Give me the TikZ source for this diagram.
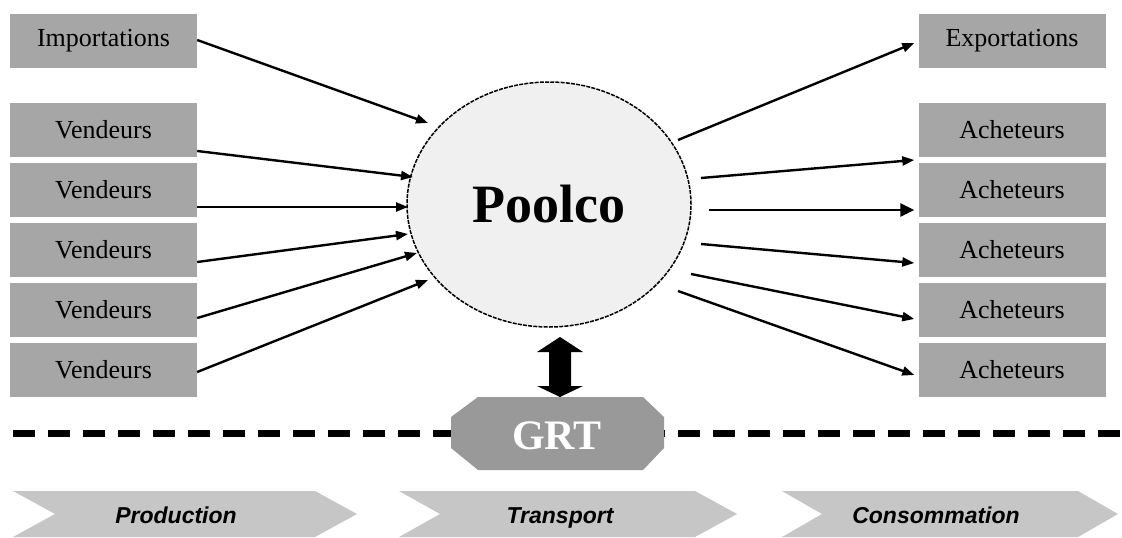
\documentclass[tikz,border=0pt]{standalone}
\usepackage{fontspec}
\setmainfont{Liberation Serif}
\newfontfamily\arialf{Liberation Sans}
\usetikzlibrary{arrows.meta,shapes.geometric}
\definecolor{boxgray}{HTML}{A6A6A6}
\definecolor{poolfill}{HTML}{F0F0F0}
\definecolor{grtgray}{HTML}{999999}
\definecolor{chevgray}{HTML}{C6C6C6}
\tikzset{
  marketbox/.style={fill=boxgray, minimum width=187pt, minimum height=54pt, inner sep=0pt,
    font=\fontsize{26}{30}\selectfont},
  flow/.style={line width=2.4pt, -{Triangle[length=12pt,width=9pt]}},
  bigflow/.style={line width=2.4pt, -{Triangle[length=14pt,width=13pt]}},
  chev/.style={fill=chevgray},
  phase/.style={font=\arialf\bfseries\itshape\fontsize{23}{27}\selectfont, inner sep=0pt, anchor=base}
}
\begin{document}
\begin{tikzpicture}[x=1pt,y=-1pt]
\useasboundingbox[fill=white] (0,0) rectangle (1122,538);

% boxes left
\node[marketbox] (imp) at (103.5,41) {Importations};
\node[marketbox] (v1) at (103.5,130) {Vendeurs};
\node[marketbox] (v2) at (103.5,190) {Vendeurs};
\node[marketbox] (v3) at (103.5,250) {Vendeurs};
\node[marketbox] (v4) at (103.5,310) {Vendeurs};
\node[marketbox] (v5) at (103.5,370) {Vendeurs};
% boxes right
\node[marketbox] (exp) at (1012,41) {Exportations};
\node[marketbox] (a1) at (1012,130) {Acheteurs};
\node[marketbox] (a2) at (1012,190) {Acheteurs};
\node[marketbox] (a3) at (1012,250) {Acheteurs};
\node[marketbox] (a4) at (1012,310) {Acheteurs};
\node[marketbox] (a5) at (1012,370) {Acheteurs};

% Poolco
\node[ellipse, draw, fill=poolfill, line width=1.5pt, dash pattern=on 4pt off 1.2pt,
      minimum width=284pt, minimum height=245pt, inner sep=0pt,
      font=\bfseries\fontsize{54}{60}\selectfont] (pool) at (549,204.5) {Poolco};

% connector ends near the pool
\coordinate (pi) at (428,123);
\coordinate (p1) at (413,177);
\coordinate (p2) at (408,207);
\coordinate (p3) at (408,234);
\coordinate (p4) at (417,253);
\coordinate (p5) at (428,280);
\coordinate (qe) at (678,140);
\coordinate (q1) at (701,178);
\coordinate (q2) at (709,210);
\coordinate (q3) at (701,244);
\coordinate (q4) at (691,274);
\coordinate (q5) at (678,291);

\draw[flow] ([yshift=1pt]imp.east) -- (pi);
\draw[flow] ([yshift=-21pt]v1.east) -- (p1);
\draw[flow] ([yshift=-17pt]v2.east) -- (p2);
\draw[flow] ([yshift=-12pt]v3.east) -- (p3);
\draw[flow] ([yshift=-8pt]v4.east) -- (p4);
\draw[flow] ([yshift=-2pt]v5.east) -- (p5);

\draw[flow] (qe) -- ([xshift=-4pt,yshift=-2pt]exp.west);
\draw[flow] (q1) -- ([xshift=-4pt,yshift=-30pt]a1.west);
\draw[bigflow] (q2) -- ([xshift=-4pt,yshift=-20pt]a2.west);
\draw[flow] (q3) -- ([xshift=-4pt,yshift=-13pt]a3.west);
\draw[flow] (q4) -- ([xshift=-4pt,yshift=-9pt]a4.west);
\draw[flow] (q5) -- ([xshift=-4pt,yshift=-5pt]a5.west);

% dashed boundary line
\coordinate (dl) at (13,433);
\coordinate (dr) at (1122,433);
\draw[line width=7pt, dash pattern=on 22pt off 13pt] (dl) -- (dr);

% GRT octagon
\fill[grtgray] (478,397) -- (643,397) -- (664,417) -- (664,448) -- (643,470)
  -- (478,470) -- (451,448) -- (451,417) -- cycle;
\node[text=white, font=\bfseries\fontsize{42}{46}\selectfont, inner sep=0pt, anchor=base] (grt) at (557,449) {GRT};

% double arrow between pool and GRT
\fill[black] (560,337) -- (583,352) -- (571,352) -- (571,386) -- (583,386)
  -- (560,397) -- (537,386) -- (549,386) -- (549,352) -- (537,352) -- cycle;

% phase chevrons
\fill[chev] (13,491) -- (315,491) -- (357,514) -- (315,537) -- (13,537) -- (55,514) -- cycle;
\fill[chev] (399,491) -- (695,491) -- (737,514) -- (695,537) -- (399,537) -- (440,514) -- cycle;
\fill[chev] (782,491) -- (1078,491) -- (1118,514) -- (1078,537) -- (782,537) -- (822,514) -- cycle;
\node[phase] (prod) at (176,523) {Production};
\node[phase] (trans) at (560,523) {Transport};
\node[phase] (cons) at (936,523) {Consommation};
\end{tikzpicture}
\end{document}
